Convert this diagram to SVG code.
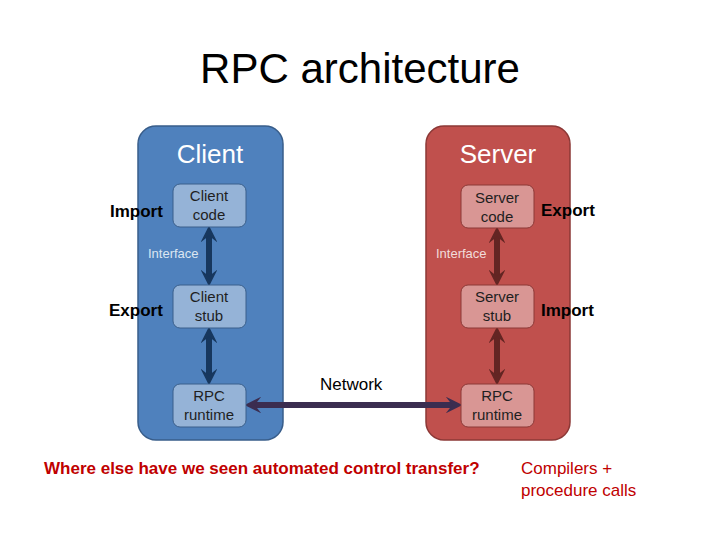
<svg xmlns="http://www.w3.org/2000/svg" width="720" height="540" viewBox="0 0 720 540">
<style>
text{font-family:"Liberation Sans",Arial,sans-serif}
.cp{fill:#4f81bd;stroke:#385d8a;stroke-width:1.5}
.sp{fill:#c0504d;stroke:#8c3836;stroke-width:1.5}
.cb{fill:#95b3d7;stroke:#3a5f8b;stroke-width:1}
.sb{fill:#d99694;stroke:#8c3836;stroke-width:1}
.bt{font-size:15px;fill:#1f1f1f;text-anchor:middle}
.lb{font-size:17px;font-weight:bold;fill:#000}
.title{font-size:26px;fill:#fff;text-anchor:middle}
</style>
<defs>
<marker id="ab" viewBox="0 0 10 10" refX="5" refY="5" markerWidth="2.8" markerHeight="2.8" orient="auto-start-reverse"><path d="M0,0 L10,5 L0,10 L4,5 z" fill="#17375e"/></marker>
<marker id="ar" viewBox="0 0 10 10" refX="5" refY="5" markerWidth="2.8" markerHeight="2.8" orient="auto-start-reverse"><path d="M0,0 L10,5 L0,10 L4,5 z" fill="#632523"/></marker>
<marker id="an" viewBox="0 0 10 10" refX="5" refY="5" markerWidth="2.8" markerHeight="2.8" orient="auto-start-reverse"><path d="M0,0 L10,5 L0,10 L4,5 z" fill="#3b2d50"/></marker>
</defs>
<rect width="720" height="540" fill="#fff"/>
<text x="360" y="83" font-size="42" text-anchor="middle" fill="#000">RPC architecture</text>
<g id="client"><rect class="cp" x="138" y="126" width="145" height="314" rx="18"/><text class="title" x="210" y="163">Client</text></g>
<g id="server"><rect class="sp" x="426" y="126" width="144" height="314" rx="18"/><text class="title" x="498" y="163">Server</text></g>
<g id="connectors">
<line x1="209" y1="234" x2="209" y2="278" stroke="#17375e" stroke-width="6" marker-start="url(#ab)" marker-end="url(#ab)"/>
<line x1="209" y1="335" x2="209" y2="377" stroke="#17375e" stroke-width="6" marker-start="url(#ab)" marker-end="url(#ab)"/>
<line x1="497" y1="235" x2="497" y2="278" stroke="#632523" stroke-width="6" marker-start="url(#ar)" marker-end="url(#ar)"/>
<line x1="497" y1="335" x2="497" y2="377" stroke="#632523" stroke-width="6" marker-start="url(#ar)" marker-end="url(#ar)"/>
<line x1="253" y1="405" x2="454" y2="405" stroke="#3b2d50" stroke-width="6" marker-start="url(#an)" marker-end="url(#an)"/>
</g>
<g id="client-code"><rect class="cb" x="173" y="184" width="73" height="43" rx="7"/><text class="bt" x="209" y="201">Client</text><text class="bt" x="209" y="220">code</text></g>
<g id="client-stub"><rect class="cb" x="173" y="285" width="73" height="43" rx="7"/><text class="bt" x="209" y="302">Client</text><text class="bt" x="209" y="321">stub</text></g>
<g id="client-rt"><rect class="cb" x="173" y="384" width="73" height="43" rx="7"/><text class="bt" x="209" y="401">RPC</text><text class="bt" x="209" y="420">runtime</text></g>
<g id="server-code"><rect class="sb" x="461" y="185" width="73" height="43" rx="7"/><text class="bt" x="497" y="203">Server</text><text class="bt" x="497" y="222">code</text></g>
<g id="server-stub"><rect class="sb" x="461" y="285" width="73" height="43" rx="7"/><text class="bt" x="497" y="302">Server</text><text class="bt" x="497" y="321">stub</text></g>
<g id="server-rt"><rect class="sb" x="461" y="384" width="73" height="43" rx="7"/><text class="bt" x="497" y="401">RPC</text><text class="bt" x="497" y="420">runtime</text></g>
<text x="148" y="258" font-size="13" fill="#dce6f2">Interface</text>
<text x="436" y="258" font-size="13" fill="#f2dcdb">Interface</text>
<text class="lb" x="110" y="217">Import</text>
<text class="lb" x="109" y="316">Export</text>
<text class="lb" x="541" y="216">Export</text>
<text class="lb" x="541" y="316">Import</text>
<text x="320" y="390" font-size="17" fill="#000">Network</text>
<text x="44" y="474" font-size="17" font-weight="bold" fill="#c00000">Where else have we seen automated control transfer?</text>
<text x="521" y="474" font-size="17" fill="#c00000">Compilers +</text>
<text x="521" y="496" font-size="17" fill="#c00000">procedure calls</text>
</svg>
